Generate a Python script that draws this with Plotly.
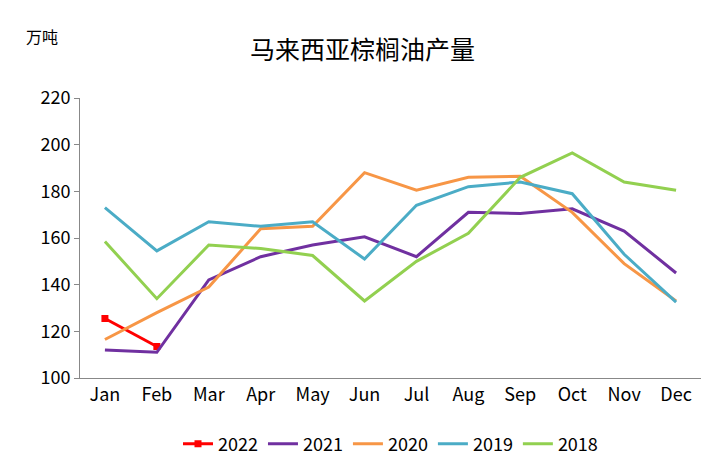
import plotly.graph_objects as go

months = ["Jan","Feb","Mar","Apr","May","Jun","Jul","Aug","Sep","Oct","Nov","Dec"]
y2022 = [125.5, 113.5]
y2021 = [112, 111, 142, 152, 157, 160.5, 152, 171, 170.5, 172.5, 163, 145]
y2020 = [116.5, 128, 139, 164, 165, 188, 180.5, 186, 186.5, 171, 149, 133]
y2019 = [173, 154.5, 167, 165, 167, 151, 174, 182, 184, 179, 153, 132.5]
y2018 = [158.5, 134, 157, 155.5, 152.5, 133, 150, 162, 186, 196.5, 184, 180.5]

series = [("2022", y2022, "#FF0000", True), ("2021", y2021, "#7030A0", False),
          ("2020", y2020, "#F79646", False), ("2019", y2019, "#4BACC6", False),
          ("2018", y2018, "#92D050", False)]

fig = go.Figure()
for name, ys, c, mk in series:
    fig.add_trace(go.Scatter(x=months[:len(ys)], y=ys, name=name,
        mode="lines+markers" if mk else "lines",
        line=dict(color=c, width=3),
        marker=dict(symbol="square", size=7, color=c)))

fig.update_layout(
    width=709, height=472, paper_bgcolor="white", plot_bgcolor="white",
    font=dict(family="Noto Sans CJK SC", size=18, color="black"),
    margin=dict(l=72, r=16, t=90, b=102),
    title=dict(text="马来西亚棕榈油产量", x=0.5, y=0.91, yref="container", xanchor="center",
               yanchor="middle", font=dict(size=25)),
    legend=dict(orientation="h", x=0.5, xanchor="center", y=-0.17, yanchor="top",
                font=dict(size=18), traceorder="normal"),
    xaxis=dict(showgrid=False, showline=True, linecolor="#888", ticks="", range=[-0.48, 11.48]),
    yaxis=dict(range=[100, 220], dtick=20, showgrid=False, showline=True, linecolor="#888",
               ticks="outside", ticklen=5, tickcolor="#888"),
    annotations=[dict(text="万吨", xref="paper", yref="paper", x=-0.09, y=1.27,
                      showarrow=False, xanchor="left", font=dict(size=16))],
)
fig.write_html("out.html")
